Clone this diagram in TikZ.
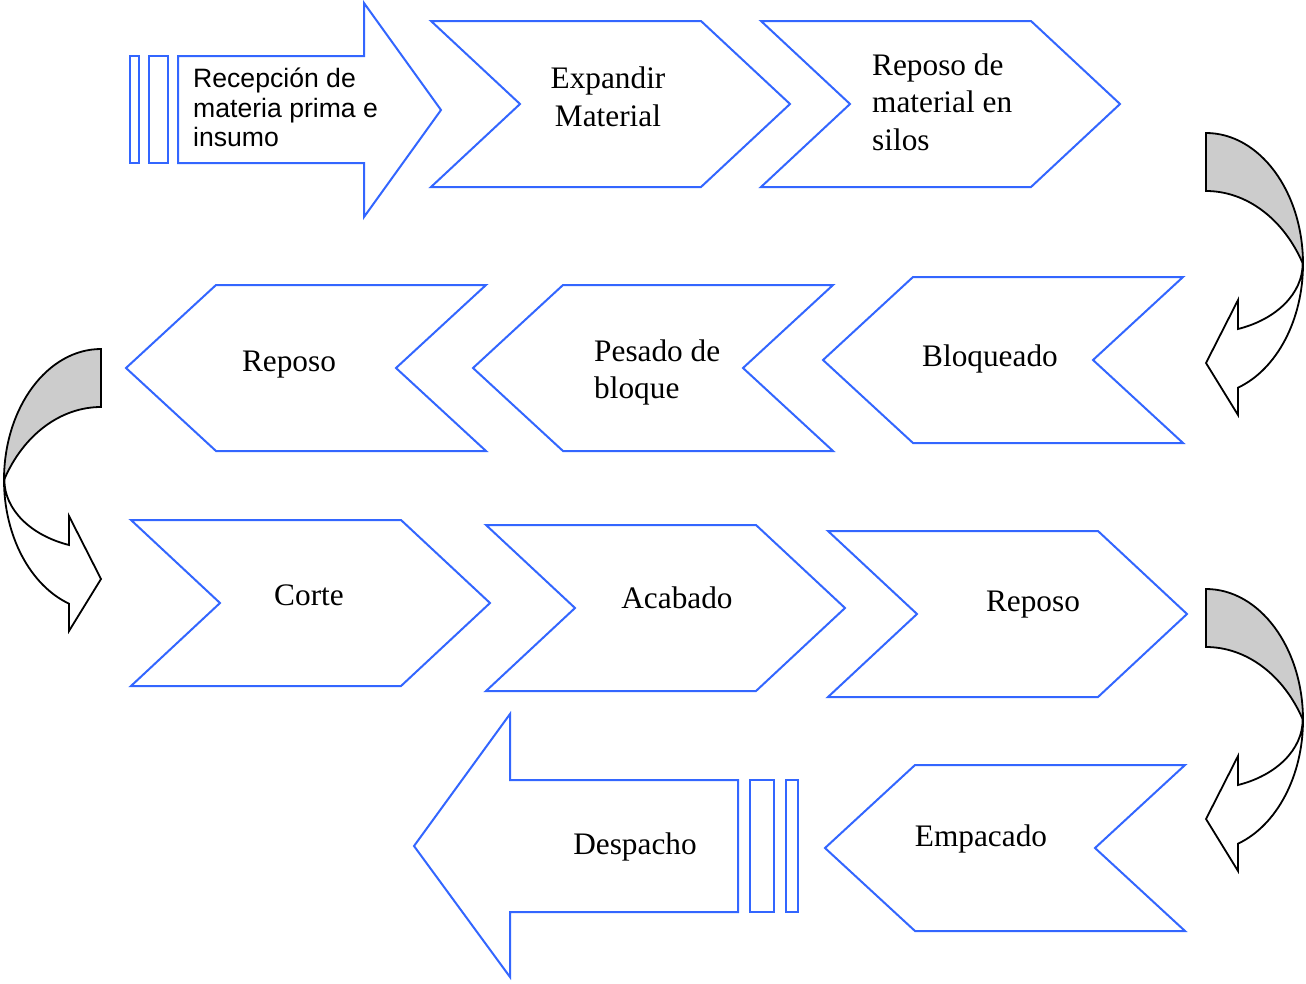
\documentclass[tikz,border=0pt]{standalone}
\usepackage{fontspec}
\setmainfont{Liberation Serif}
\newfontfamily\arialfont{Liberation Sans}
\definecolor{flowblue}{RGB}{51,102,255}
\definecolor{bandgray}{RGB}{204,204,204}

% right- and left-pointing process chevrons, placed by their top-left corner
\newcommand\ChevRight[1]{\draw[flow,shift={#1}] (0,0) -- (270,0) -- (359,83) -- (270,166) -- (0,166) -- (89,83) -- cycle;}
\newcommand\ChevLeft[1]{\draw[flow,shift={#1}] (0,83) -- (90,0) -- (360,0) -- (270,83) -- (360,166) -- (90,166) -- cycle;}

% U-turn arrow: grey back band on top, white front band ending in a head
\tikzset{
  uturn/.pic={
    \filldraw[band] (0,0) arc[start angle=-90,end angle=0,x radius=97,y radius=131]
      arc[start angle=-28.1,end angle=-90,x radius=110,y radius=138] -- cycle;
    \filldraw[bandfront] (97,131) arc[start angle=0,end angle=70.7,x radius=97,y radius=131]
      -- (32,282) -- (0,230) -- (32,167) -- (32,196)
      arc[start angle=70.5,end angle=0,x radius=97,y radius=69] -- cycle;
  }
}

\begin{document}
\begin{tikzpicture}[x=1pt,y=-1pt,
  flow/.style={draw=flowblue,line width=2pt,line join=miter},
  band/.style={draw=black,line width=1.8pt,fill=bandgray,line join=miter},
  bandfront/.style={draw=black,line width=1.8pt,fill=white,line join=miter},
  lbl/.style={inner sep=0pt,font=\fontsize{31.3}{37.2}\selectfont},
  slbl/.style={inner sep=0pt,font=\arialfont\fontsize{26.6}{29.7}\selectfont}]
\useasboundingbox (0,0) rectangle (1306,983);

% row 1 (multi-line labels are placed by the baseline of their last line)
\draw[flow] (130,56) rectangle (139,163);
\draw[flow] (149,56) rectangle (168,163);
\draw[flow] (178,56) -- (364,56) -- (364,3) -- (441,110) -- (364,217) -- (364,163) -- (178,163) -- cycle;
\node[slbl,anchor=base west,align=left] (recep) at (193,146.7) {Recepción de\\materia prima e\\insumo};

\ChevRight{(431,21)}
\node[lbl,anchor=base,align=center] (expand) at (608,126) {Expandir\\Material};

\ChevRight{(761,21)}
\node[lbl,anchor=base west,align=left] (silos) at (872,150) {Reposo de\\material en\\silos};

\pic (turn1) at (1206,133) {uturn};

% row 2
\ChevLeft{(126,285)}
\node[lbl,anchor=base] (reposoA) at (289,371) {Reposo};

\ChevLeft{(473,285)}
\node[lbl,anchor=base west,align=left] (pesado) at (594,398.3) {Pesado de\\bloque};

\ChevLeft{(823,277)}
\node[lbl,anchor=base] (bloq) at (990,366) {Bloqueado};

\pic[xscale=-1] (turn2) at (101,349) {uturn};

% row 3
\ChevRight{(131,520)}
\node[lbl,anchor=base] (corte) at (309,605) {Corte};

\ChevRight{(486,525)}
\node[lbl,anchor=base] (acab) at (677,608) {Acabado};

\ChevRight{(828,531)}
\node[lbl,anchor=base] (reposoB) at (1033,611) {Reposo};

\pic (turn3) at (1206,589) {uturn};

% row 4
\ChevLeft{(825,765)}
\node[lbl,anchor=base] (empac) at (981,846) {Empacado};

\draw[flow] (750,780) rectangle (774,912);
\draw[flow] (786,780) rectangle (798,912);
\draw[flow] (738,780) -- (510,780) -- (510,714) -- (414,846) -- (510,977) -- (510,912) -- (738,912) -- cycle;
\node[lbl,anchor=base] (desp) at (635,854) {Despacho};
\end{tikzpicture}
\end{document}
